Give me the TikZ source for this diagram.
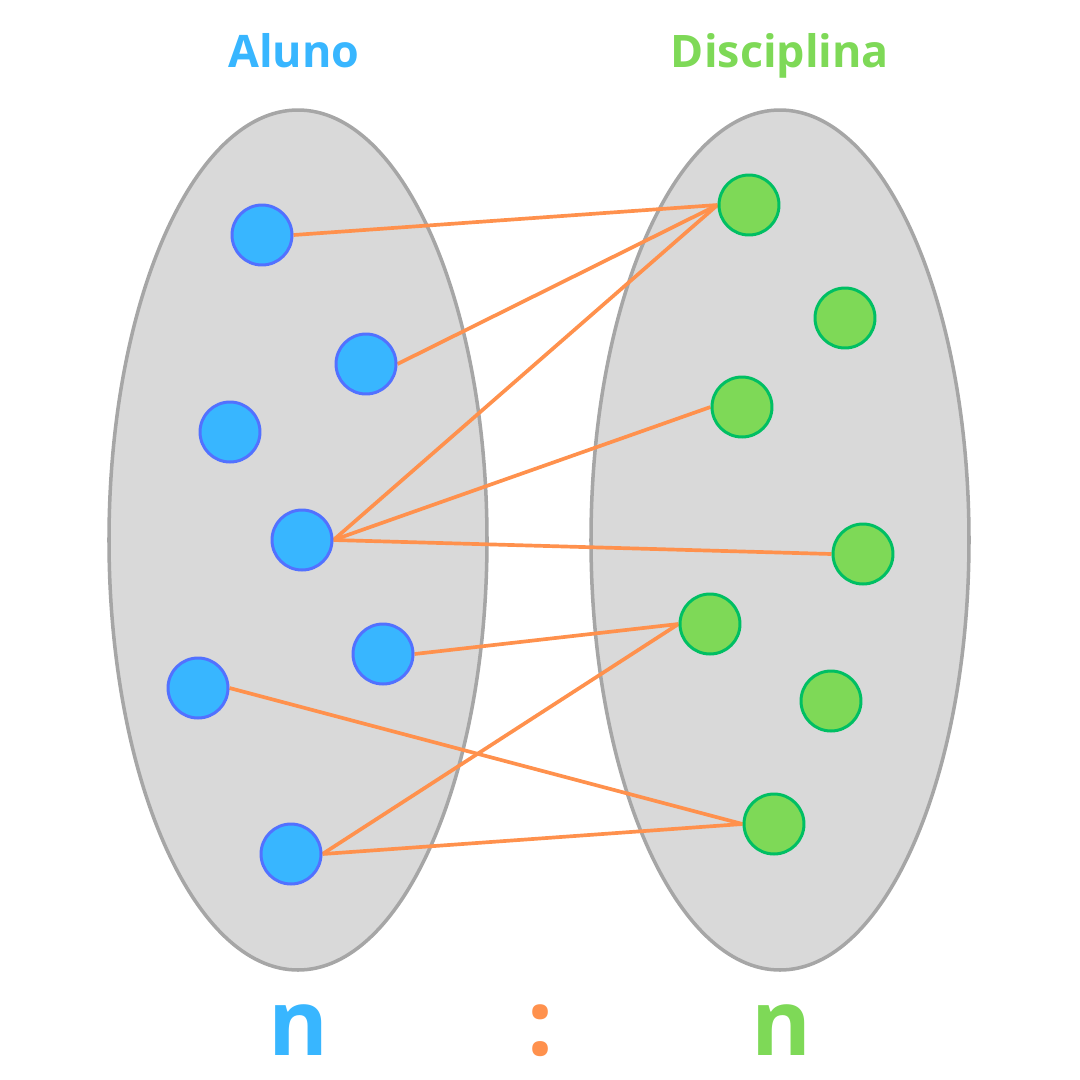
\documentclass[tikz,border=0pt]{standalone}
\usepackage{fontspec}
\setmainfont{Open Sans}
\usepackage{xcolor}
\usepackage{tikz}
\usetikzlibrary{backgrounds}
\definecolor{alunoblue}{HTML}{38B6FF}
\definecolor{alunoline}{HTML}{5271FF}
\definecolor{discgreen}{HTML}{7ED957}
\definecolor{discline}{HTML}{00BF63}
\definecolor{linkorange}{HTML}{FF914D}
\definecolor{setgray}{HTML}{D9D9D9}
\definecolor{setline}{HTML}{A6A6A6}

\begin{document}
\begin{tikzpicture}[
  x=0.02cm, y=-0.02cm,
  conj/.style={draw=setline, fill=setgray, line width=2pt},
  aluno/.style={circle, draw=alunoline, fill=alunoblue, line width=1.7pt, minimum size=1.2cm, inner sep=0pt},
  disc/.style={circle, draw=discline, fill=discgreen, line width=1.7pt, minimum size=1.2cm, inner sep=0pt},
  rel/.style={draw=linkorange, line width=2.1pt},
  titulo/.style={font=\fontsize{25.5}{30}\selectfont\bfseries, anchor=base, inner sep=0pt},
  card/.style={font=\fontsize{52}{60}\selectfont\bfseries, anchor=base, inner sep=0pt},
]
\useasboundingbox (0,0) rectangle (1080,1080);

% titulos
\node[titulo, text=alunoblue] (tAluno) at (294,67) {Aluno};
\node[titulo, text=discgreen] (tDisc)  at (780,67) {Disciplina};

% alunos
\node[aluno] (a1) at (262,235) {};
\node[aluno] (a2) at (366,364) {};
\node[aluno] (a3) at (230,432) {};
\node[aluno] (a4) at (302,540) {};
\node[aluno] (a5) at (383,654) {};
\node[aluno] (a6) at (198,688) {};
\node[aluno] (a7) at (291,854) {};

% disciplinas
\node[disc] (d1) at (749,205) {};
\node[disc] (d2) at (845,318) {};
\node[disc] (d3) at (742,407) {};
\node[disc] (d4) at (863,554) {};
\node[disc] (d5) at (710,624) {};
\node[disc] (d6) at (831,701) {};
\node[disc] (d7) at (774,824) {};

\begin{scope}[on background layer]
\draw[conj] (298,540) ellipse [x radius=189, y radius=430];
\draw[conj] (780,540) ellipse [x radius=189, y radius=430];
% relacoes n:n
\draw[rel] (a1.east) -- (d1.west);
\draw[rel] (a2.east) -- (d1.west);
\draw[rel] (a4.east) -- (d1.west);
\draw[rel] (a4.east) -- (d3.west);
\draw[rel] (a4.east) -- (d4.west);
\draw[rel] (a5.east) -- (d5.west);
\draw[rel] (a7.east) -- (d5.west);
\draw[rel] (a6.east) -- (d7.west);
\draw[rel] (a7.east) -- (d7.west);
\end{scope}

% cardinalidade
\node[card, text=alunoblue]  (nA)  at (299,1055) {n};
\node[card, text=linkorange] (sep) at (541,1055) {:};
\node[card, text=discgreen]  (nD)  at (782,1055) {n};
\end{tikzpicture}
\end{document}
